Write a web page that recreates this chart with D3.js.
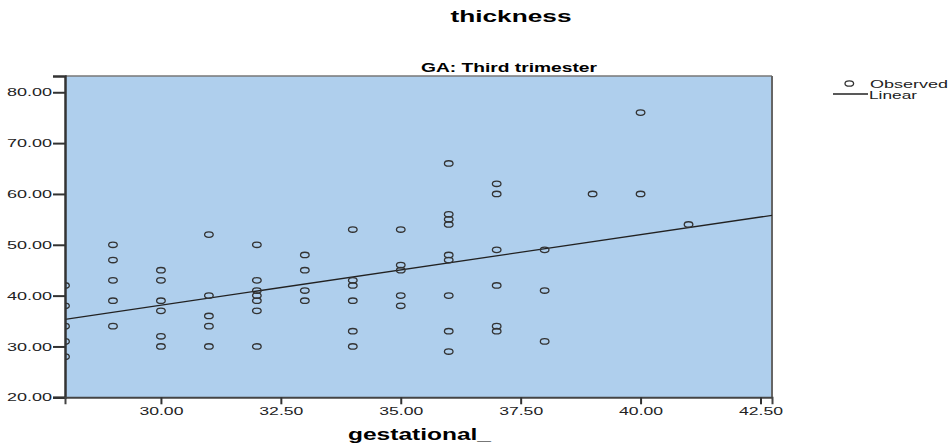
<!doctype html>
<html>
<head>
<meta charset="utf-8">
<script src="https://cdn.jsdelivr.net/npm/d3@7"></script>
<style>
  body { margin: 0; background: #fff; }
  text { font-family: "Liberation Sans", Arial, sans-serif; }
</style>
</head>
<body>
<script>

// Data
var weeks = [28, 29, 30, 31, 32, 33, 34, 35, 36, 37, 38, 39, 40, 41];
var thickness = [
  [42, 38, 34, 31, 28],
  [50, 47, 43, 39, 34],
  [45, 43, 39, 37, 32, 30],
  [52, 40, 36, 34, 30],
  [50, 43, 41, 40, 39, 37, 30],
  [48, 45, 41, 39],
  [53, 43, 42, 39, 33, 30],
  [53, 46, 45, 40, 38],
  [66, 56, 55, 54, 48, 47, 40, 33, 29],
  [62, 60, 49, 42, 34, 33],
  [49, 41, 31],
  [60],
  [76, 60],
  [54]
];
var xTicks = [30, 32.5, 35, 37.5, 40, 42.5];
var yTicks = [20, 30, 40, 50, 60, 70, 80];
var fitIntercept = -3.49;
var fitSlope = 1.387;
var xDomain = [28, 42.74];
var yDomain = [20, 83.2];

var points = [];
weeks.forEach(function(w, i) {
  thickness[i].forEach(function(v) { points.push({x: w, y: v}); });
});

// Layout
var W = 951, H = 446;
var plot = {left: 65, right: 772, top: 76, bottom: 397.3};

var svg = d3.select("body").append("svg")
  .attr("width", W)
  .attr("height", H);

var x = d3.scaleLinear().domain(xDomain).range([plot.left, plot.right]);
var y = d3.scaleLinear().domain(yDomain).range([plot.bottom, plot.top]);

// stretched text like the source image
function stretch(sel, len) {
  sel.attr("textLength", len).attr("lengthAdjust", "spacingAndGlyphs");
}

// titles
svg.append("text")
  .attr("x", 511).attr("y", 22)
  .attr("text-anchor", "middle")
  .attr("font-size", 17).attr("font-weight", "bold")
  .text("thickness")
  .call(stretch, 121);

svg.append("text")
  .attr("x", 509).attr("y", 71.5)
  .attr("text-anchor", "middle")
  .attr("font-size", 12.5).attr("font-weight", "bold")
  .text("GA: Third trimester")
  .call(stretch, 176);

// plot background
svg.append("rect")
  .attr("x", plot.left).attr("y", plot.top)
  .attr("width", plot.right - plot.left)
  .attr("height", plot.bottom - plot.top)
  .attr("fill", "#afcfed");

// frame top/right
svg.append("line")
  .attr("x1", plot.left).attr("x2", plot.right)
  .attr("y1", plot.top).attr("y2", plot.top)
  .attr("stroke", "#777").attr("stroke-width", 1.5);
svg.append("line")
  .attr("x1", plot.right).attr("x2", plot.right)
  .attr("y1", plot.top).attr("y2", plot.bottom)
  .attr("stroke", "#666").attr("stroke-width", 2);

// clip for marks
svg.append("clipPath").attr("id", "clip")
  .append("rect")
  .attr("x", plot.left).attr("y", plot.top)
  .attr("width", plot.right - plot.left)
  .attr("height", plot.bottom - plot.top);

var marks = svg.append("g").attr("clip-path", "url(#clip)");

// fit line
marks.append("line")
  .attr("x1", x(xDomain[0])).attr("y1", y(fitIntercept + fitSlope * xDomain[0]))
  .attr("x2", x(xDomain[1])).attr("y2", y(fitIntercept + fitSlope * xDomain[1]))
  .attr("stroke", "#222").attr("stroke-width", 1.3);

// observed points
marks.selectAll("ellipse")
  .data(points)
  .enter()
  .append("ellipse")
  .attr("cx", function(d) { return x(d.x); })
  .attr("cy", function(d) { return y(d.y); })
  .attr("rx", 4.3)
  .attr("ry", 2.7)
  .attr("fill", "none")
  .attr("stroke", "#333")
  .attr("stroke-width", 1.3);

// Axes
var yAxis = d3.axisLeft(y)
  .tickValues(yTicks)
  .tickFormat(d3.format(".2f"))
  .tickSize(12)
  .tickPadding(1);

var gy = svg.append("g")
  .attr("transform", "translate(" + plot.left + ",0)")
  .call(yAxis);
gy.select(".domain").attr("stroke", "#333").attr("stroke-width", 2.5);
gy.selectAll(".tick line").attr("stroke", "#333").attr("stroke-width", 2);
gy.selectAll(".tick text")
  .attr("font-size", 11.5).attr("fill", "#222")
  .attr("font-family", "Liberation Sans, Arial, sans-serif")
  .call(stretch, 45);

var xAxis = d3.axisBottom(x)
  .tickValues(xTicks)
  .tickFormat(d3.format(".2f"))
  .tickSize(7)
  .tickPadding(3);

var gx = svg.append("g")
  .attr("transform", "translate(0," + plot.bottom + ")")
  .call(xAxis);
gx.select(".domain").attr("stroke", "#444").attr("stroke-width", 2);
gx.selectAll(".tick line").attr("stroke", "#333").attr("stroke-width", 2);
gx.selectAll(".tick text")
  .attr("font-size", 11.5).attr("fill", "#222")
  .attr("font-family", "Liberation Sans, Arial, sans-serif")
  .call(stretch, 44);

// x title
svg.append("text")
  .attr("x", 419.5).attr("y", 440)
  .attr("text-anchor", "middle")
  .attr("font-size", 16).attr("font-weight", "bold")
  .text("gestational_")
  .call(stretch, 143);

// legend
var lg = svg.append("g");
lg.append("ellipse")
  .attr("cx", 849.3).attr("cy", 83.5)
  .attr("rx", 4.3).attr("ry", 2.7)
  .attr("fill", "none").attr("stroke", "#333").attr("stroke-width", 1.3);
lg.append("text")
  .attr("x", 870).attr("y", 87.5)
  .attr("font-size", 11).attr("fill", "#222")
  .text("Observed")
  .call(stretch, 78);
lg.append("line")
  .attr("x1", 833).attr("x2", 868)
  .attr("y1", 94).attr("y2", 94)
  .attr("stroke", "#222").attr("stroke-width", 1.3);
lg.append("text")
  .attr("x", 869).attr("y", 98.5)
  .attr("font-size", 11).attr("fill", "#222")
  .text("Linear")
  .call(stretch, 48);

</script>
</body>
</html>
